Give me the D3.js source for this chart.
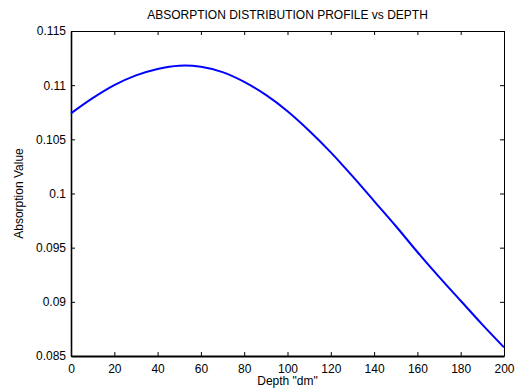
<!DOCTYPE html>
<html>
<head>
<meta charset="utf-8">
<script src="https://cdn.jsdelivr.net/npm/d3@7"></script>
<style>
  html, body { margin: 0; padding: 0; background: #fff; }
  svg { display: block; font-family: Arial, "Liberation Sans", sans-serif; }
</style>
</head>
<body>
<script>
// Data
const depth = [0, 10, 20, 30, 40, 50, 60, 70, 80, 90, 100, 110, 120, 130, 140, 150, 160, 170, 180, 190, 200]
const absorption = [0.1074, 0.1088, 0.1100, 0.1109, 0.1115, 0.1118, 0.1117, 0.1112, 0.1103, 0.1091, 0.1076,
  0.1058, 0.1038, 0.1016, 0.0993, 0.0970, 0.0946, 0.0923, 0.0901, 0.0879, 0.0858]
const xTicks = [0, 20, 40, 60, 80, 100, 120, 140, 160, 180, 200]
const yTicks = [0.085, 0.09, 0.095, 0.1, 0.105, 0.11, 0.115]

const width = 516
const height = 391
const margins = { top: 31, right: 12, bottom: 35, left: 71 }
const fontSize = 12

const xScale = d3.scaleLinear()
  .domain([0, 200])
  .range([margins.left, width - margins.right])

const yScale = d3.scaleLinear()
  .domain([0.085, 0.115])
  .range([height - margins.bottom, margins.top])

const svg = d3.select('body').append('svg')
  .attr('width', width)
  .attr('height', height)

const fmt = d => String(+d.toFixed(3))

// Axes (MATLAB style: ticks inside, mirrored on top/right)
svg.append('g')
  .attr('transform', `translate(0, ${height - margins.bottom})`)
  .call(d3.axisBottom(xScale).tickValues(xTicks).tickSizeInner(-4).tickSizeOuter(0).tickPadding(8).tickFormat(d3.format('d')))
  .call(g => g.select('.domain').attr('stroke-width', 2))

svg.append('g')
  .attr('transform', `translate(${margins.left}, 0)`)
  .call(d3.axisLeft(yScale).tickValues(yTicks).tickSizeInner(-4).tickSizeOuter(0).tickPadding(5).tickFormat(fmt))
  .call(g => g.select('.domain').attr('stroke-width', 1.6))

svg.append('g')
  .attr('transform', `translate(0, ${margins.top})`)
  .call(d3.axisTop(xScale).tickValues(xTicks).tickSizeInner(-4).tickSizeOuter(0).tickFormat(''))

svg.append('g')
  .attr('transform', `translate(${width - margins.right}, 0)`)
  .call(d3.axisRight(yScale).tickValues(yTicks).tickSizeInner(-4).tickSizeOuter(0).tickFormat(''))

svg.selectAll('.tick text')
  .attr('font-size', fontSize)
  .attr('font-family', 'Arial, "Liberation Sans", sans-serif')
  .attr('fill', '#000')

// Curve
const line = d3.line()
  .x((d, i) => xScale(depth[i]))
  .y(d => yScale(d))
  .curve(d3.curveCatmullRom)

svg.append('path')
  .datum(absorption)
  .attr('d', line)
  .attr('fill', 'none')
  .attr('stroke', '#0000ff')
  .attr('stroke-width', 2)

// Titles
svg.append('text')
  .attr('x', (margins.left + width - margins.right) / 2)
  .attr('y', 19)
  .attr('text-anchor', 'middle')
  .attr('font-size', fontSize)
  .text('ABSORPTION DISTRIBUTION PROFILE vs DEPTH')

svg.append('text')
  .attr('x', (margins.left + width - margins.right) / 2)
  .attr('y', 385)
  .attr('text-anchor', 'middle')
  .attr('font-size', fontSize)
  .text('Depth "dm"')

svg.append('text')
  .attr('transform', `translate(23, ${(margins.top + height - margins.bottom) / 2}) rotate(-90)`)
  .attr('text-anchor', 'middle')
  .attr('font-size', fontSize)
  .text('Absorption Value')
</script>
</body>
</html>
